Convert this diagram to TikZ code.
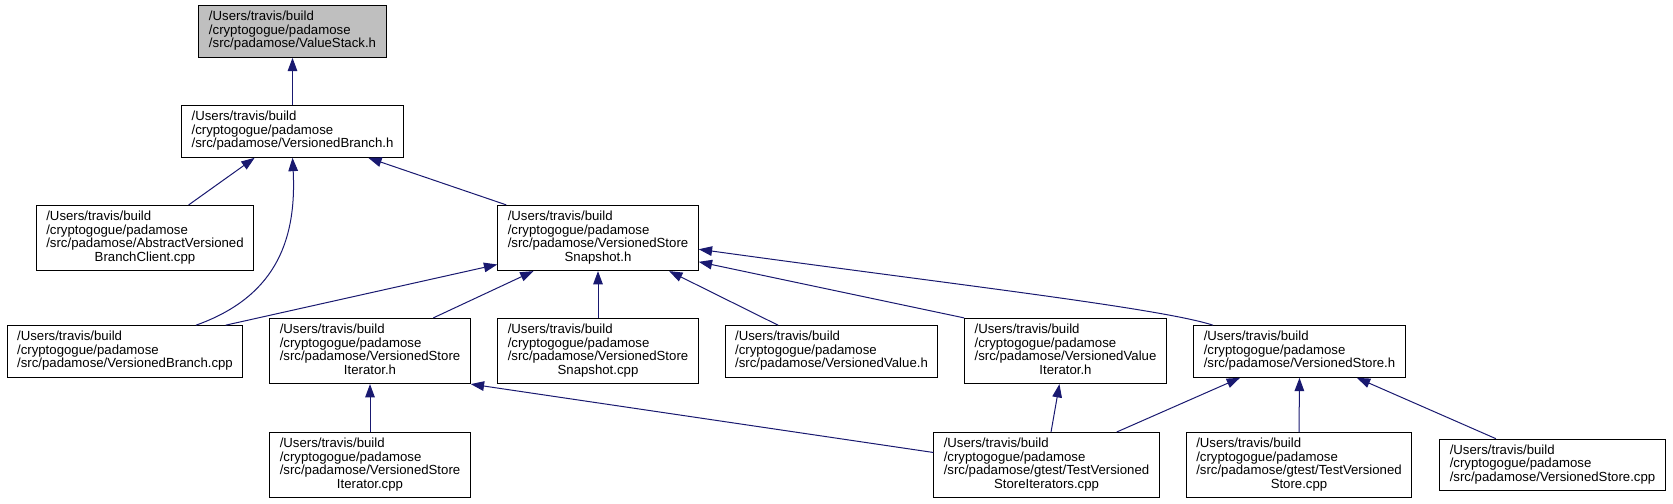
\documentclass[tikz,border=0pt]{standalone}
\usepackage{fontspec}
\setmainfont{Liberation Sans}
\usetikzlibrary{arrows.meta,calc}

\definecolor{edgeblue}{RGB}{25,25,112}
\definecolor{nodegray}{RGB}{191,191,191}

\newcommand{\srcfile}[1]{\begin{tabular}{@{}l@{}}/Users/travis/build\\/cryptogogue/padamose\\#1\end{tabular}}
\newcommand{\srcfilebr}[2]{\begin{tabular}{@{}l@{}}/Users/travis/build\\/cryptogogue/padamose\\#1\\\multicolumn{1}{@{}c@{}}{#2}\end{tabular}}

\tikzset{every picture/.style={line width=0.75pt},
	filebox/.style={draw=black, fill=white, inner xsep=7.5pt, inner ysep=4.1pt, font=\fontsize{9.9}{10}\selectfont},
	dep/.style={draw=edgeblue, -{Triangle[length=10pt,width=7.2pt]}}}

\begin{document}
\begin{tikzpicture}[x=0.75pt,y=0.75pt,yscale=-1,xscale=1]
		\useasboundingbox (0,0) rectangle (1673,503);
		
		% Text Node
		\node [filebox, fill=nodegray] (valuestack) at (292.5,31.5) {\srcfile{/src/padamose/ValueStack.h}};
		% Text Node
		\node [filebox] (vbranchh) at (292.5,131.5) {\srcfile{/src/padamose/VersionedBranch.h}};
		% Text Node
		\node [filebox] (abstractcpp) at (145,238) {\srcfilebr{/src/padamose/AbstractVersioned}{BranchClient.cpp}};
		% Text Node
		\node [filebox] (snapshoth) at (598,238) {\srcfilebr{/src/padamose/VersionedStore}{Snapshot.h}};
		% Text Node
		\node [filebox] (vbranchcpp) at (125,351.5) {\srcfile{/src/padamose/VersionedBranch.cpp}};
		% Text Node
		\node [filebox] (iteratorh) at (370,351) {\srcfilebr{/src/padamose/VersionedStore}{Iterator.h}};
		% Text Node
		\node [filebox] (snapshotcpp) at (598,351) {\srcfilebr{/src/padamose/VersionedStore}{Snapshot.cpp}};
		% Text Node
		\node [filebox] (valueh) at (831.5,351.5) {\srcfile{/src/padamose/VersionedValue.h}};
		% Text Node
		\node [filebox] (valueiterh) at (1065.5,351) {\srcfilebr{/src/padamose/VersionedValue}{Iterator.h}};
		% Text Node
		\node [filebox] (storeh) at (1299.5,351.5) {\srcfile{/src/padamose/VersionedStore.h}};
		% Text Node
		\node [filebox] (iteratorcpp) at (370,465) {\srcfilebr{/src/padamose/VersionedStore}{Iterator.cpp}};
		% Text Node
		\node [filebox] (testiterscpp) at (1046.5,465) {\srcfilebr{/src/padamose/gtest/TestVersioned}{StoreIterators.cpp}};
		% Text Node
		\node [filebox] (teststorecpp) at (1299,465) {\srcfilebr{/src/padamose/gtest/TestVersioned}{Store.cpp}};
		% Text Node
		\node [filebox] (storecpp) at (1552.5,465) {\srcfile{/src/padamose/VersionedStore.cpp}};
		
		%Straight Lines
		\draw [dep] (vbranchh.north) -- (valuestack.south);
		%Straight Lines
		\draw [dep] ($(abstractcpp.north west)!0.70!(abstractcpp.north east)$) -- ($(vbranchh.south west)!0.33!(vbranchh.south east)$);
		%Curve Lines
		\draw [dep] ($(vbranchcpp.north west)!0.8!(vbranchcpp.north east)$) .. controls (272,298) and (297,245) .. (vbranchh.south);
		%Straight Lines
		\draw [dep] ($(snapshoth.north west)!0.045!(snapshoth.north east)$) -- ($(vbranchh.south west)!0.84!(vbranchh.south east)$);
		%Straight Lines
		\draw [dep] ($(vbranchcpp.north west)!0.925!(vbranchcpp.north east)$) -- ($(snapshoth.north west)!0.9!(snapshoth.south west)$);
		%Straight Lines
		\draw [dep] ($(iteratorh.north west)!0.814!(iteratorh.north east)$) -- ($(snapshoth.south west)!0.18!(snapshoth.south east)$);
		%Straight Lines
		\draw [dep] (snapshotcpp.north) -- (snapshoth.south);
		%Straight Lines
		\draw [dep] ($(valueh.north west)!0.25!(valueh.north east)$) -- ($(snapshoth.south west)!0.853!(snapshoth.south east)$);
		%Straight Lines
		\draw [dep] (valueiterh.north west) -- ($(snapshoth.north east)!0.86!(snapshoth.south east)$);
		%Curve Lines
		\draw [dep] ($(storeh.north west)!0.093!(storeh.north east)$) .. controls (1160,308) and (950,284) .. ($(snapshoth.north east)!0.67!(snapshoth.south east)$);
		%Straight Lines
		\draw [dep] (iteratorcpp.north) -- (iteratorh.south);
		%Straight Lines
		\draw [dep] ($(testiterscpp.north west)!0.31!(testiterscpp.south west)$) -- (iteratorh.south east);
		%Straight Lines
		\draw [dep] ($(testiterscpp.north west)!0.52!(testiterscpp.north east)$) -- ($(valueiterh.south west)!0.47!(valueiterh.south east)$);
		%Straight Lines
		\draw [dep] ($(testiterscpp.north west)!0.81!(testiterscpp.north east)$) -- ($(storeh.south west)!0.22!(storeh.south east)$);
		%Straight Lines
		\draw [dep] (teststorecpp.north) -- (storeh.south);
		%Straight Lines
		\draw [dep] ($(storecpp.north west)!0.25!(storecpp.north east)$) -- ($(storeh.south west)!0.77!(storeh.south east)$);
	\end{tikzpicture}
\end{document}
